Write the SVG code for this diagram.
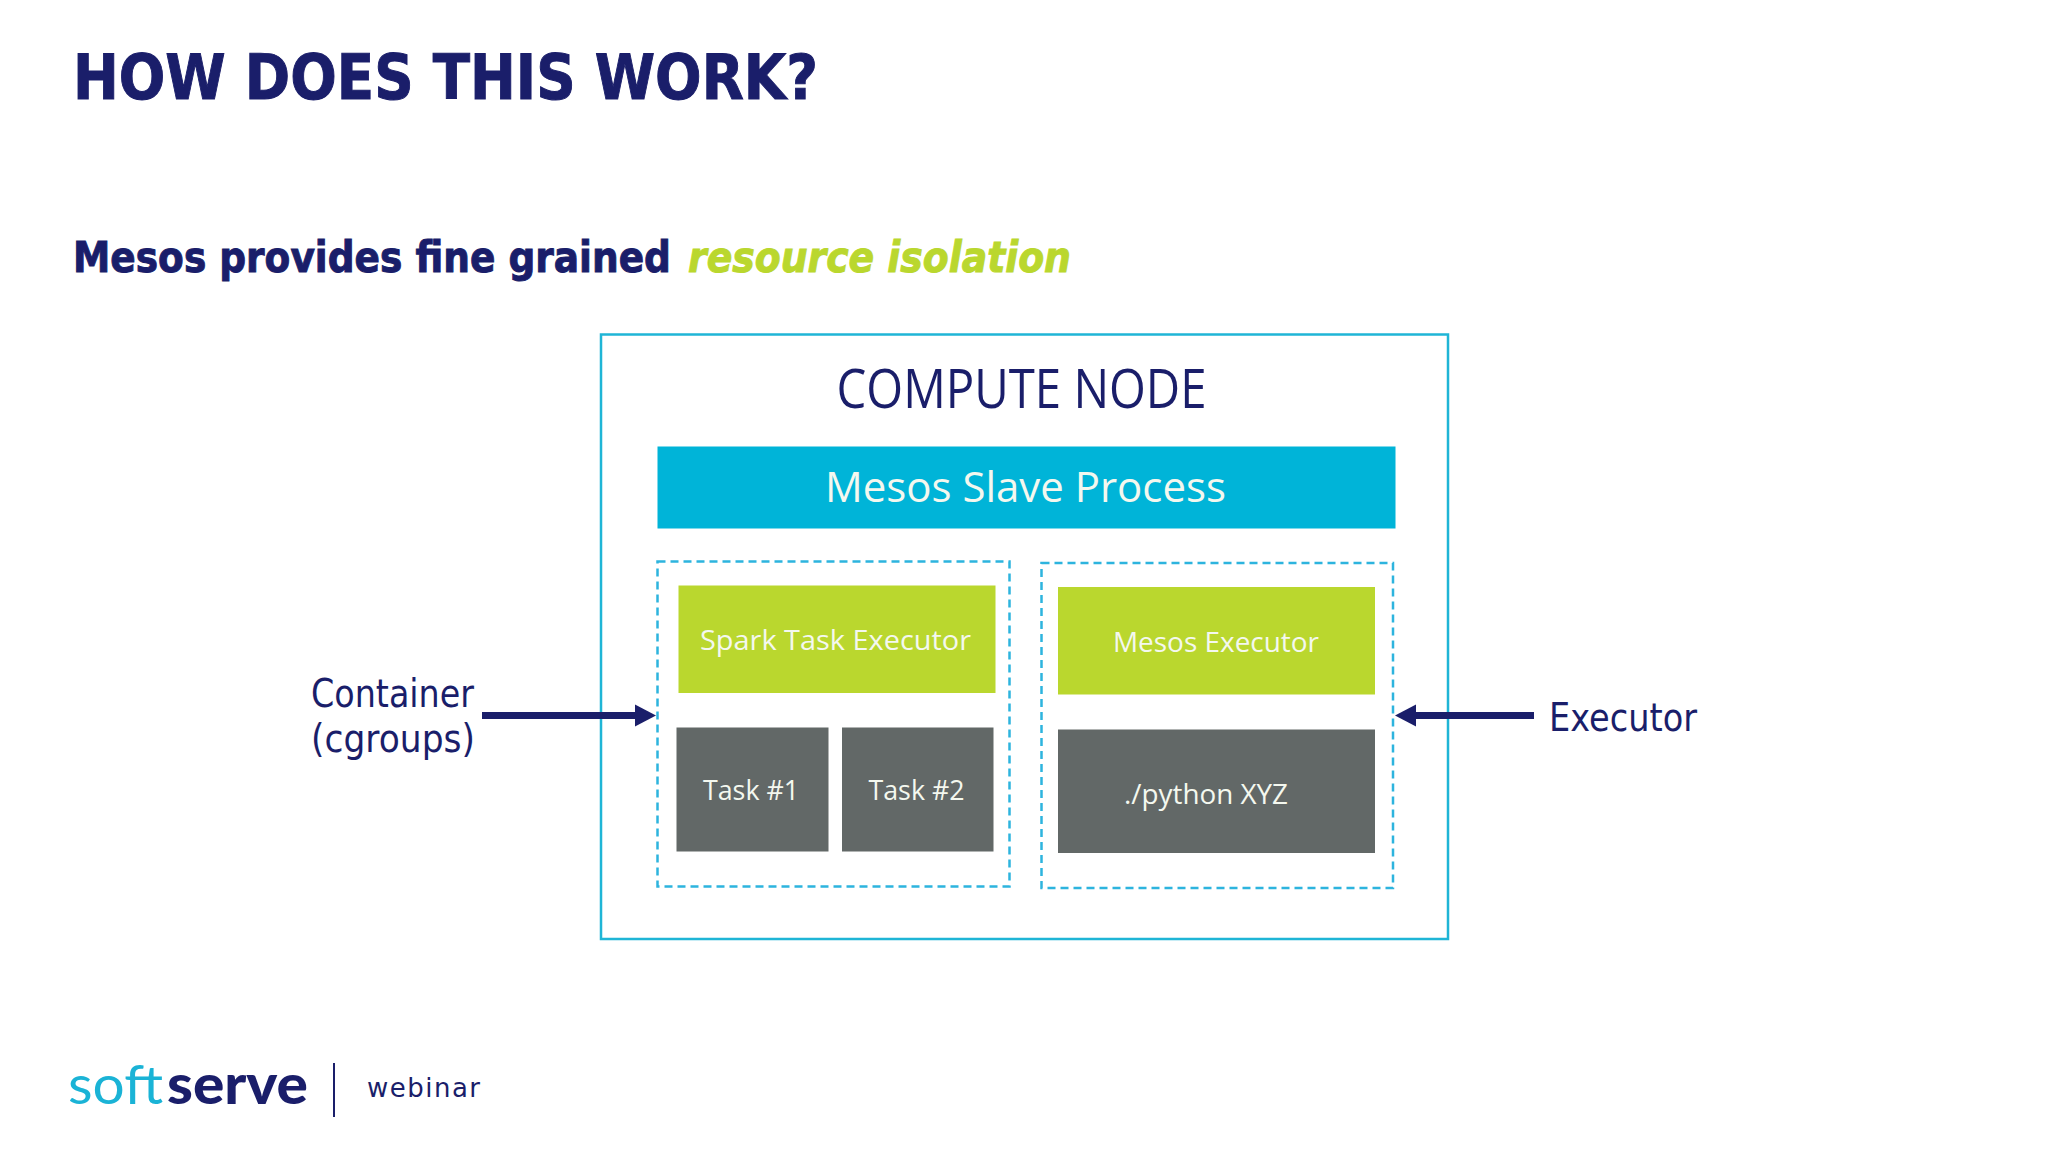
<svg xmlns="http://www.w3.org/2000/svg" width="2048" height="1152" viewBox="0 0 2048 1152">
<defs>
<style>
.navy{fill:#1a1e6a}
.title{font-family:"DejaVu Sans",sans-serif;font-weight:700;stroke-width:1;paint-order:stroke}
.body{font-family:"Open Sans","Noto Sans",sans-serif}
.label{font-family:"DejaVu Sans",sans-serif;fill:#1a1e6a}
.wh{fill:#f4f8ef}
.dash{fill:none;stroke:#2db4de;stroke-width:2.5;stroke-dasharray:8 5}
.arrow{stroke:#1a1e6a;stroke-width:7;fill:none;marker-end:url(#head)}
.green{fill:#bad72e}
.grey{fill:#626867}
</style>
<marker id="head" markerUnits="userSpaceOnUse" markerWidth="22" markerHeight="24" viewBox="0 -12 22 24" refX="0" refY="0" orient="auto"><path d="M0 -11L21 0L0 11z" fill="#1a1e6a"/></marker>
</defs>
<rect width="2048" height="1152" fill="#fff"/>
<g id="heading">
<text class="title navy" stroke="#1a1e6a" x="73" y="99" font-size="62" textLength="745" lengthAdjust="spacingAndGlyphs">HOW DOES THIS WORK?</text>
<text class="title navy" stroke="#1a1e6a" transform="translate(73 272) scale(.9 1)" font-size="43" textLength="664.4" lengthAdjust="spacingAndGlyphs">Mesos provides fine grained</text>
<text class="title" stroke="#bad72e" x="688" y="272" font-size="43" font-style="italic" fill="#bad72e" textLength="383" lengthAdjust="spacingAndGlyphs">resource isolation</text>
</g>
<g id="compute-node">
<rect x="601" y="334.5" width="847" height="604.5" fill="#fff" stroke="#1fb5d6" stroke-width="2.5"/>
<text class="body navy" x="836.5" y="408" font-size="54" textLength="370" lengthAdjust="spacingAndGlyphs">COMPUTE NODE</text>
</g>
<g id="mesos-slave">
<rect x="657.5" y="446.5" width="738" height="82" fill="#00b4d8"/>
<text class="body wh" x="825" y="502" font-size="42" textLength="401" lengthAdjust="spacingAndGlyphs">Mesos Slave Process</text>
</g>
<g id="container-left"><rect class="dash" x="657.5" y="561.5" width="352" height="325"/></g>
<g id="container-right"><rect class="dash" x="1041.5" y="563" width="351.5" height="325"/></g>
<g id="spark-executor">
<rect class="green" x="678.5" y="585.5" width="317" height="107.5"/>
<text class="body wh" x="700" y="650" font-size="28" textLength="271" lengthAdjust="spacingAndGlyphs">Spark Task Executor</text>
</g>
<g id="task-1">
<rect class="grey" x="676.5" y="727.5" width="152" height="124"/>
<text class="body wh" x="703" y="799.5" font-size="28" textLength="96" lengthAdjust="spacingAndGlyphs">Task #1</text>
</g>
<g id="task-2">
<rect class="grey" x="842" y="727.5" width="151.5" height="124"/>
<text class="body wh" x="868.5" y="799.5" font-size="28" textLength="96" lengthAdjust="spacingAndGlyphs">Task #2</text>
</g>
<g id="mesos-executor">
<rect class="green" x="1058" y="587" width="317" height="107.5"/>
<text class="body wh" x="1113" y="651.5" font-size="28" textLength="206" lengthAdjust="spacingAndGlyphs">Mesos Executor</text>
</g>
<g id="python-task">
<rect class="grey" x="1058" y="729.5" width="317" height="123.5"/>
<text class="body wh" x="1124" y="804" font-size="28" textLength="164" lengthAdjust="spacingAndGlyphs">./python XYZ</text>
</g>
<g id="connectors">
<line class="arrow" x1="482" y1="715.5" x2="635" y2="715.5"/>
<line class="arrow" x1="1534" y1="715.5" x2="1416" y2="715.5"/>
</g>
<g id="container-label">
<text class="label" x="311" y="707" font-size="39" textLength="163" lengthAdjust="spacingAndGlyphs">Container</text>
<text class="label" x="311" y="752" font-size="39" textLength="164" lengthAdjust="spacingAndGlyphs">(cgroups)</text>
</g>
<g id="executor-label">
<text class="label" x="1549" y="730.5" font-size="39" textLength="148" lengthAdjust="spacingAndGlyphs">Executor</text>
</g>
<g id="logo">
<text x="68" y="1103.5" font-family="Lato,sans-serif" font-size="55" fill="#1ab3d6" textLength="95" lengthAdjust="spacingAndGlyphs">soft</text>
<text x="167" y="1103.5" font-family="Lato,sans-serif" font-weight="900" font-size="55" class="navy" textLength="141" lengthAdjust="spacingAndGlyphs">serve</text>
<line x1="334" y1="1063" x2="334" y2="1117" stroke="#1a1e6a" stroke-width="2"/>
<text x="367" y="1097" font-family="DejaVu Sans,sans-serif" font-size="26" class="navy" textLength="113">webinar</text>
</g>
</svg>
